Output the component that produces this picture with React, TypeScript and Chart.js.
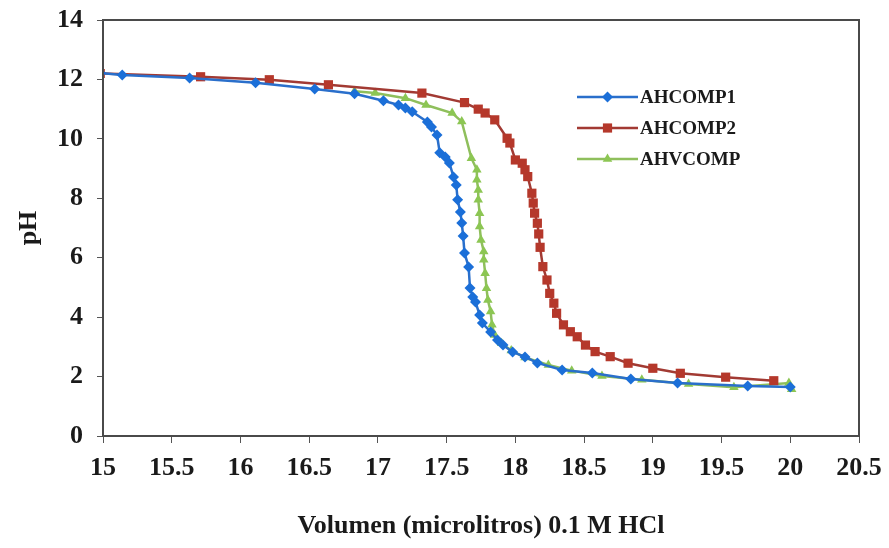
import React, { useEffect, useRef } from 'react';
import { Chart, registerables } from 'chart.js';

Chart.register(...registerables);

// ---- Data ----
const seriesNames = ['AHCOMP1', 'AHCOMP2', 'AHVCOMP'];

const ahcomp1X = [14.98, 15.14, 15.63, 16.11, 16.54, 16.83, 17.04, 17.15, 17.2, 17.25, 17.36, 17.39, 17.43, 17.45, 17.49, 17.52, 17.55, 17.57, 17.58, 17.6, 17.61, 17.62, 17.63, 17.66, 17.67, 17.69, 17.71, 17.74, 17.76, 17.82, 17.87, 17.91, 17.98, 18.07, 18.16, 18.34, 18.56, 18.84, 19.18, 19.69, 20.0];
const ahcomp1Y = [12.22, 12.15, 12.05, 11.89, 11.68, 11.52, 11.28, 11.14, 11.04, 10.91, 10.57, 10.4, 10.13, 9.53, 9.39, 9.19, 8.72, 8.45, 7.95, 7.54, 7.17, 6.73, 6.16, 5.69, 4.98, 4.68, 4.51, 4.07, 3.8, 3.5, 3.23, 3.06, 2.83, 2.66, 2.46, 2.22, 2.12, 1.92, 1.78, 1.68, 1.65];

const ahcomp2X = [14.98, 15.71, 16.21, 16.64, 17.32, 17.63, 17.73, 17.78, 17.85, 17.94, 17.96, 18.0, 18.05, 18.07, 18.09, 18.12, 18.13, 18.14, 18.16, 18.17, 18.18, 18.2, 18.23, 18.25, 18.28, 18.3, 18.35, 18.4, 18.45, 18.51, 18.58, 18.69, 18.82, 19.0, 19.2, 19.53, 19.88];
const ahcomp2Y = [12.2, 12.09, 11.99, 11.82, 11.54, 11.22, 11.0, 10.87, 10.64, 10.02, 9.86, 9.29, 9.18, 8.96, 8.73, 8.17, 7.84, 7.5, 7.16, 6.8, 6.35, 5.7, 5.25, 4.8, 4.47, 4.13, 3.74, 3.51, 3.34, 3.06, 2.84, 2.67, 2.45, 2.28, 2.11, 1.98, 1.86];

const ahvcompX = [16.83, 16.98, 17.2, 17.35, 17.54, 17.61, 17.68, 17.72, 17.72, 17.73, 17.73, 17.74, 17.74, 17.75, 17.77, 17.77, 17.78, 17.79, 17.8, 17.82, 17.83, 17.85, 17.9, 17.97, 18.07, 18.24, 18.41, 18.63, 18.92, 19.26, 19.59, 19.99, 20.01];
const ahvcompY = [11.6, 11.54, 11.37, 11.14, 10.87, 10.58, 9.35, 8.96, 8.62, 8.28, 7.95, 7.5, 7.05, 6.6, 6.21, 5.93, 5.48, 4.97, 4.58, 4.19, 3.74, 3.4, 3.12, 2.88, 2.64, 2.39, 2.2, 2.02, 1.89, 1.75, 1.64, 1.78, 1.57];

const xMin = 15;
const xMax = 20.5;
const xStep = 0.5;
const yMin = 0;
const yMax = 14;
const yStep = 2;
const xTitle = 'Volumen (microlitros) 0.1 M HCl';
const yTitle = 'pH';

const FONT = '"Liberation Serif", "Times New Roman", serif';

const styles = [
  { line: '#2a6fcb', fill: '#1b6fd8', point: 'rectRot', radius: 5.5 },
  { line: '#a23a33', fill: '#b5382b', point: 'rect', radius: 6.5 },
  { line: '#8fbf5c', fill: '#8cc653', point: 'triangle', radius: 5.5 },
];

function toPoints(xs: number[], ys: number[]) {
  return xs.map((x, i) => ({ x, y: ys[i] }));
}

function drawMarker(ctx: CanvasRenderingContext2D, style: string, x: number, y: number, r: number, color: string) {
  ctx.fillStyle = color;
  ctx.beginPath();
  if (style === 'rectRot') {
    ctx.moveTo(x, y - r);
    ctx.lineTo(x + r, y);
    ctx.lineTo(x, y + r);
    ctx.lineTo(x - r, y);
  } else if (style === 'rect') {
    const s = r * Math.SQRT1_2;
    ctx.rect(x - s, y - s, 2 * s, 2 * s);
  } else {
    ctx.moveTo(x, y - r);
    ctx.lineTo(x + r * 0.87, y + r * 0.5);
    ctx.lineTo(x - r * 0.87, y + r * 0.5);
  }
  ctx.closePath();
  ctx.fill();
}

const framePlugin = {
  id: 'frameAndLegend',
  afterDatasetsDraw(chart: any) {
    const { ctx, chartArea: a } = chart;
    ctx.save();
    ctx.strokeStyle = '#4a4a4a';
    ctx.lineWidth = 2;
    ctx.strokeRect(a.left, a.top, a.right - a.left, a.bottom - a.top);

    // legend
    const lx0 = 577;
    const lx1 = 638;
    const ly0 = 97;
    const dy = 31;
    ctx.font = `bold 19px ${FONT}`;
    ctx.textBaseline = 'middle';
    ctx.textAlign = 'left';
    seriesNames.forEach((name, i) => {
      const st = styles[i];
      const y = ly0 + i * dy;
      ctx.strokeStyle = st.line;
      ctx.lineWidth = 2.5;
      ctx.beginPath();
      ctx.moveTo(lx0, y);
      ctx.lineTo(lx1, y);
      ctx.stroke();
      drawMarker(ctx, st.point, (lx0 + lx1) / 2, y, st.radius, st.fill);
      ctx.fillStyle = '#1a1a1a';
      ctx.fillText(name, lx1 + 2, y + 1);
    });
    ctx.restore();
  },
};

export default function App() {
  const canvasRef = useRef<HTMLCanvasElement | null>(null);

  useEffect(() => {
    const canvas = canvasRef.current;
    if (!canvas) return;
    const xs = [ahcomp1X, ahcomp2X, ahvcompX];
    const ys = [ahcomp1Y, ahcomp2Y, ahvcompY];
    const datasets = seriesNames.map((name, i) => ({
      label: name,
      data: toPoints(xs[i], ys[i]),
      borderColor: styles[i].line,
      backgroundColor: styles[i].fill,
      pointBackgroundColor: styles[i].fill,
      pointBorderColor: styles[i].fill,
      pointBorderWidth: 0,
      pointStyle: styles[i].point,
      pointRadius: styles[i].radius,
      borderWidth: 2.5,
      tension: 0,
      fill: false,
    }));

    const tickFont = { family: FONT, size: 26, weight: 'bold' as const };

    const chart = new Chart(canvas, {
      type: 'line',
      data: { datasets },
      plugins: [framePlugin],
      options: {
        responsive: false,
        animation: false,
        layout: { padding: { top: 20, right: 30, left: 0, bottom: 0 } },
        plugins: {
          legend: { display: false },
          tooltip: { enabled: false },
        },
        scales: {
          x: {
            type: 'linear',
            min: xMin,
            max: xMax,
            ticks: {
              stepSize: xStep,
              color: '#1a1a1a',
              font: tickFont,
              padding: 10,
              maxRotation: 0,
              autoSkip: false,
              callback: (v: any) => String(Number(v)),
            },
            grid: {
              drawOnChartArea: false,
              drawTicks: true,
              tickLength: 7,
              color: '#555555',
              lineWidth: 1,
            },
            border: { display: false },
            title: {
              display: true,
              text: xTitle,
              color: '#1a1a1a',
              font: { family: FONT, size: 26, weight: 'bold' },
              padding: { top: 0, bottom: 6 },
            },
            afterFit(scale: any) {
              scale.height = 112;
              scale.paddingLeft = 0;
              scale.paddingRight = 0;
            },
          },
          y: {
            type: 'linear',
            min: yMin,
            max: yMax,
            ticks: {
              stepSize: yStep,
              color: '#1a1a1a',
              font: tickFont,
              padding: 14,
            },
            grid: {
              drawOnChartArea: false,
              drawTicks: true,
              tickLength: 6,
              color: '#555555',
              lineWidth: 1,
            },
            border: { display: false },
            title: {
              display: true,
              text: yTitle,
              color: '#1a1a1a',
              font: { family: FONT, size: 26, weight: 'bold' },
              padding: { top: 14, bottom: 0 },
            },
            afterFit(scale: any) {
              scale.width = 103;
              scale.paddingTop = 0;
              scale.paddingBottom = 0;
            },
          },
        },
      },
    });
    return () => chart.destroy();
  }, []);

  return (
    <div style={{ position: 'fixed', left: 0, top: 0, width: 889, height: 548, background: '#ffffff' }}>
      <canvas ref={canvasRef} width={889} height={548} style={{ width: 889, height: 548 }} />
    </div>
  );
}
